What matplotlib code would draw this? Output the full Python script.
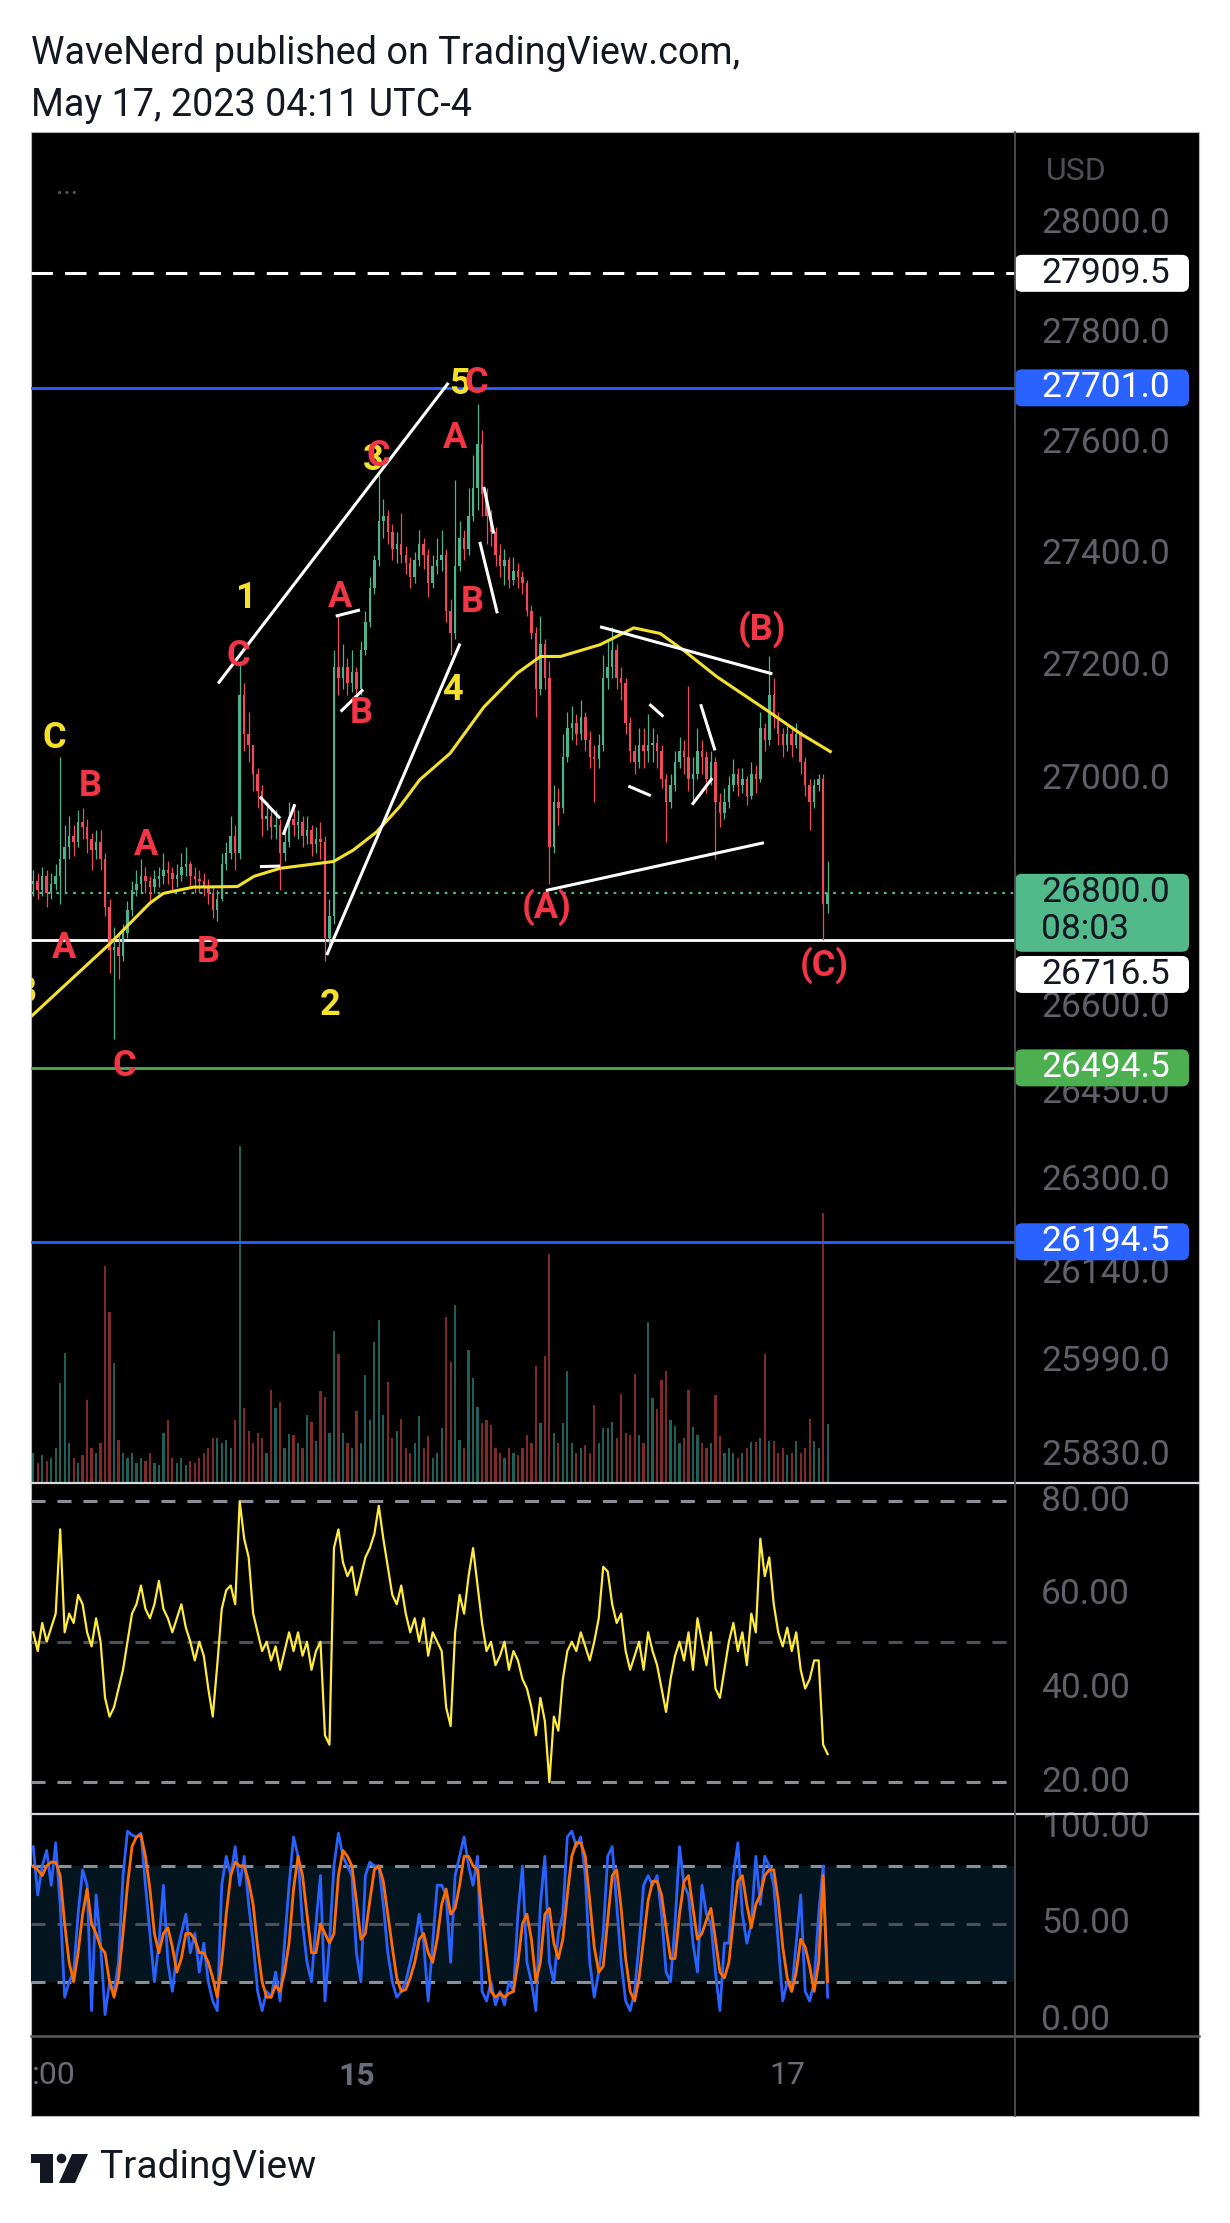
import numpy as np
import matplotlib.pyplot as plt
from matplotlib.patches import Rectangle, FancyBboxPatch, Polygon, Circle
from matplotlib.lines import Line2D
from matplotlib.transforms import IdentityTransform, blended_transform_factory

plt.rcParams['font.family'] = ['Roboto', 'DejaVu Sans']

# ---- 30 min BTCUSD bars, May 13 12:00 -> May 17 04:30 ----
first_open = 26815
close = [
    26820, 26805, 26830, 26800, 26815, 26830, 26860, 26880, 26900, 26890,
    26925, 26915, 26895, 26875, 26890, 26860, 26775, 26700, 26705, 26690,
    26730, 26770, 26805, 26815, 26830, 26820, 26810, 26825, 26830, 26840,
    26835, 26825, 26832, 26845, 26850, 26830, 26825, 26820, 26812, 26800,
    26770, 26790, 26850, 26870, 26900, 26870, 27150, 27080, 27060, 27010,
    26980, 26930, 26935, 26915, 26920, 26870, 26890, 26930, 26920, 26925,
    26900, 26910, 26885, 26895, 26890, 26720, 26760, 27200, 27180, 27200,
    27170, 27190, 27160, 27230, 27280, 27340, 27390, 27460, 27470, 27440,
    27410, 27420, 27400, 27385, 27360, 27390, 27420, 27400, 27350, 27380,
    27390, 27400, 27300, 27260, 27380, 27430, 27410, 27470, 27520, 27600,
    27510, 27470, 27440, 27400, 27380, 27390, 27355, 27370, 27360, 27350,
    27300, 27260, 27160, 27240, 27180, 26880, 26960, 26950, 27040, 27090,
    27100, 27080, 27110, 27070, 27040, 27035, 27060, 27180, 27200, 27230,
    27180, 27170, 27100, 27050, 27030, 27060, 27050, 27060, 27065, 27050,
    27000, 26960, 26990, 27030, 27050, 27040, 27000, 27010, 27050, 27040,
    27000, 27030, 26960, 26940, 26960, 26990, 27010, 26990, 27000, 26970,
    27010, 27000, 27090, 27070, 27150, 27110, 27080, 27060, 27080, 27060,
    27080, 27030, 26990, 26960, 26990, 27000, 26780, 26800]
high = [
    26840, 26835, 26845, 26840, 26835, 26850, 27040, 26920, 26935, 26920,
    26945, 26950, 26930, 26905, 26910, 26910, 26870, 26790, 26740, 26730,
    26745, 26785, 26820, 26840, 26860, 26845, 26830, 26840, 26845, 26870,
    26855, 26845, 26850, 26870, 26880, 26855, 26845, 26840, 26835, 26825,
    26810, 26805, 26870, 26890, 26935, 26920, 27210, 27170, 27120, 27060,
    27020, 26990, 26960, 26950, 26945, 26930, 26910, 26960, 26955, 26945,
    26935, 26935, 26920, 26915, 26925, 26900, 26790, 27230, 27290, 27240,
    27215, 27230, 27200, 27245, 27300, 27360, 27400, 27545, 27500, 27480,
    27455, 27440, 27475, 27415, 27395, 27405, 27445, 27430, 27410, 27400,
    27430, 27445, 27410, 27320, 27535, 27460, 27445, 27520, 27580, 27671,
    27625, 27520, 27480, 27450, 27420, 27410, 27395, 27395, 27385, 27370,
    27355, 27310, 27270, 27290, 27250, 27210, 26990, 26985, 27080, 27120,
    27130, 27115, 27140, 27120, 27085, 27060, 27080, 27220, 27245, 27270,
    27240, 27200, 27180, 27110, 27060, 27090, 27090, 27115, 27090, 27080,
    27060, 27010, 27010, 27050, 27075, 27070, 27165, 27040, 27090, 27070,
    27050, 27050, 27040, 26975, 26985, 27005, 27035, 27020, 27020, 27005,
    27030, 27025, 27120, 27100, 27219, 27180, 27120, 27090, 27095, 27090,
    27100, 27085, 27040, 27000, 27000, 27010, 27010, 26855]
low = [
    26795, 26790, 26795, 26775, 26790, 26805, 26780, 26800, 26860, 26865,
    26880, 26895, 26870, 26840, 26860, 26840, 26760, 26660, 26545, 26650,
    26680, 26720, 26760, 26795, 26800, 26800, 26780, 26800, 26810, 26815,
    26815, 26805, 26810, 26820, 26830, 26810, 26800, 26800, 26795, 26780,
    26755, 26750, 26785, 26840, 26860, 26840, 26860, 27050, 27030, 26980,
    26950, 26900, 26910, 26895, 26895, 26805, 26855, 26880, 26900, 26895,
    26880, 26885, 26865, 26870, 26860, 26680, 26700, 26745, 27150, 27160,
    27150, 27155, 27130, 27150, 27220, 27270, 27330, 27380, 27430, 27420,
    27390, 27385, 27385, 27365, 27340, 27350, 27380, 27375, 27325, 27340,
    27365, 27370, 27280, 27220, 27250, 27370, 27390, 27400, 27460, 27480,
    27470, 27420, 27415, 27380, 27360, 27345, 27340, 27345, 27340, 27330,
    27290, 27250, 27110, 27150, 27160, 26815, 26870, 26920, 26940, 27030,
    27070, 27060, 27070, 27050, 27020, 26960, 27020, 27050, 27160, 27180,
    27160, 27140, 27080, 27030, 27010, 27020, 27020, 27030, 27030, 27020,
    26985, 26890, 26950, 26980, 27020, 27010, 26980, 26960, 27000, 27010,
    26975, 26990, 26860, 26915, 26930, 26950, 26980, 26970, 26975, 26955,
    26965, 26975, 26995, 27050, 27060, 27090, 27060, 27040, 27050, 27040,
    27055, 27010, 26970, 26910, 26950, 26980, 26716.5, 26765]
volume = [
    30, 20, 28, 22, 25, 35, 100, 130, 40, 25,
    20, 28, 83, 35, 30, 40, 217, 171, 120, 43,
    30, 25, 30, 20, 25, 22, 30, 20, 18, 50,
    63, 25, 20, 25, 18, 22, 20, 25, 30, 35,
    45, 45, 40, 43, 35, 63, 337, 75, 52, 40,
    50, 45, 30, 93, 75, 81, 35, 49, 48, 40,
    35, 68, 61, 42, 92, 86, 50, 152, 129, 50,
    40, 35, 72, 40, 108, 63, 141, 163, 68, 101,
    45, 52, 64, 35, 30, 40, 67, 35, 47, 25,
    30, 55, 166, 121, 178, 43, 35, 133, 105, 76,
    60, 63, 58, 35, 30, 25, 35, 30, 28, 35,
    48, 40, 117, 60, 127, 229, 50, 40, 60, 112,
    40, 30, 35, 38, 30, 78, 40, 55, 55, 61,
    45, 89, 50, 48, 109, 48, 40, 161, 85, 74,
    103, 112, 63, 57, 40, 45, 93, 56, 48, 40,
    35, 40, 88, 47, 30, 35, 30, 25, 30, 35,
    41, 41, 45, 129, 42, 42, 30, 35, 28, 30,
    42, 30, 35, 64, 42, 35, 270, 59]
rsi = [
    52, 48, 54, 50, 53, 56, 74, 52, 56, 54,
    60, 58, 52, 49, 55, 50, 38, 34, 36, 40,
    44, 50, 56, 58, 62, 57, 55, 58, 63, 57,
    55, 52, 55, 58, 53, 50, 46, 50, 47, 40,
    34, 45, 57, 61, 62, 58, 80, 72, 68, 56,
    52, 48, 50, 46, 49, 44, 48, 52, 48, 52,
    47, 50, 44, 48, 50, 30, 28, 70, 74, 67,
    64, 66, 60, 64, 68, 70, 73, 79, 72, 66,
    60, 58, 62, 56, 52, 55, 50, 55, 47, 52,
    50, 48, 36, 32, 52, 60, 56, 64, 70, 62,
    54, 48, 50, 45, 47, 50, 44, 48, 46, 42,
    40, 36, 30, 38, 33, 20, 34, 31, 42, 48,
    50, 48, 52, 49, 46, 50, 55, 66, 65, 58,
    54, 56, 48, 44, 47, 50, 44, 52, 48, 45,
    40, 35, 42, 47, 50, 46, 52, 44, 55, 50,
    45, 52, 40, 38, 44, 50, 54, 48, 52, 45,
    56, 52, 72, 64, 68, 58, 52, 49, 53, 48,
    52, 44, 40, 42, 46, 46, 28, 26]
stoch_k = [
    90, 65, 80, 88, 70, 92, 60, 12, 20, 25,
    55, 78, 70, 5, 65, 40, 3, 20, 15, 30,
    75, 98, 96, 95, 97, 70, 45, 20, 40, 70,
    30, 15, 35, 45, 55, 35, 45, 25, 40, 20,
    10, 5, 70, 85, 75, 90, 70, 85, 60, 40,
    15, 5, 15, 12, 25, 10, 40, 70, 95, 85,
    50, 30, 20, 50, 75, 10, 40, 80, 97, 85,
    80, 75, 35, 20, 75, 82, 80, 80, 60, 35,
    20, 12, 15, 20, 30, 40, 55, 40, 10, 40,
    70, 70, 65, 30, 75, 85, 95, 80, 70, 85,
    15, 10, 20, 8, 15, 8, 20, 15, 55, 80,
    30, 20, 5, 60, 85, 30, 20, 45, 55, 95,
    98, 90, 95, 75, 30, 12, 25, 45, 85, 90,
    60, 30, 10, 5, 15, 40, 70, 75, 70, 75,
    55, 25, 20, 50, 90, 70, 65, 40, 25, 70,
    55, 50, 25, 5, 40, 40, 75, 92, 55, 40,
    50, 85, 60, 85, 80, 70, 40, 10, 20, 15,
    40, 65, 15, 10, 20, 55, 80, 12]
stoch_d = [
    80, 78, 75, 80, 82, 82, 75, 50, 30, 20,
    35, 55, 68, 50, 45, 38, 35, 20, 12, 22,
    45, 70, 90, 95, 96, 85, 68, 45, 35, 45,
    48, 38, 25, 32, 45, 45, 42, 35, 35, 30,
    22, 12, 30, 55, 75, 82, 80, 80, 72, 60,
    38, 20, 12, 12, 18, 15, 25, 40, 68, 85,
    75, 55, 35, 35, 50, 45, 40, 45, 75, 88,
    85, 80, 62, 42, 45, 62, 78, 80, 72, 55,
    38, 22, 15, 16, 22, 30, 42, 45, 35, 30,
    42, 60, 68, 55, 58, 70, 85, 85, 80, 78,
    55, 35, 15, 12, 14, 12, 14, 15, 30, 50,
    55, 42, 20, 30, 55, 58, 40, 32, 42, 65,
    85, 92, 92, 85, 62, 38, 25, 28, 52, 75,
    78, 58, 32, 15, 10, 22, 42, 62, 72, 72,
    65, 48, 32, 32, 55, 72, 75, 58, 42, 45,
    52, 58, 42, 25, 22, 30, 52, 72, 75, 60,
    48, 60, 65, 75, 78, 78, 62, 38, 22, 15,
    25, 42, 38, 28, 15, 30, 75, 20]

# moving average (bar, price)
ma_bar = [-1, 17.1, 26.0, 29.0, 35.7, 45.5, 49.2, 55.0, 66.9, 71.3, 76.5, 81.7, 86.1,
          92.9, 100.4, 107.8, 113.0, 117.5, 126.3, 133.8, 139.7, 144.9, 152.3, 163.5,
          170.9, 177.6]
ma_val = [26580, 26711, 26782, 26799, 26810, 26811, 26829, 26843, 26855, 26875, 26907,
          26952, 26999, 27046, 27128, 27188, 27218, 27218, 27239, 27269, 27259, 27229,
          27182, 27122, 27081, 27049]

# drawn trend lines (bar0, price0, bar1, price1)
trend_lines = [
    (41.2, 27170, 92.5, 27710), (65.4, 26691, 95.1, 27241),
    (67.4, 27290, 72.8, 27301), (68.5, 27120, 73.5, 27159),
    (50.5, 26969, 55.0, 26931), (50.5, 26846, 55.0, 26847),
    (55.7, 26902, 58.3, 26956), (100.4, 27522, 102.6, 27438),
    (99.5, 27423, 103.4, 27295), (126.3, 27271, 164.7, 27187),
    (114.2, 26804, 162.8, 26888), (137.3, 27133, 140.4, 27111),
    (132.6, 26988, 137.6, 26971), (148.7, 27133, 151.9, 27051),
    (146.8, 26955, 151.3, 27002)]

YEL, RED = '#f5e12a', '#f23645'
wave_text = ['C', '1', '3', '5', '4', '2', 'B',
             'A', 'B', 'C', 'A', 'B', 'C', 'A', 'B', 'C', 'A', 'C', 'B',
             '(A)', '(B)', '(C)']
wave_bar = [4.8, 47.2, 75.7, 94.9, 93.5, 66.1, -1.8,
            6.8, 12.8, 20.4, 25.1, 38.9, 45.6, 68.4, 73.1, 76.8, 94.0, 98.7, 97.8,
            114.4, 162.4, 176.3]
wave_price = [27073, 27322, 27570, 27708, 27158, 26604, 26627,
              26703, 26988, 26498, 26884, 26696, 27219, 27324, 27118, 27578, 27610,
              27710, 27315, 26775, 27267, 26674]
wave_color = [YEL] * 7 + [RED] * 15

price_ticks = [28000, 27800, 27600, 27400, 27200, 27000, 26600, 26450, 26300, 26140,
               25990, 25830]
rsi_ticks = [80, 60, 40, 20]
stoch_ticks = [100, 50, 0]
day_ticks = [72, 168]
day_labels = ['15', '17']

W, H = 1230, 2223
fig = plt.figure(figsize=(W / 100, H / 100), dpi=100, facecolor='white')
PX = IdentityTransform()
XMIN, XMAX = -0.5, 218.75


def frame(x0, y0, x1, y1):
    return [x0 / W, 1 - y1 / H, (x1 - x0) / W, (y1 - y0) / H]


def dy(y):
    return H - y


fig.add_artist(Rectangle((31, dy(2116)), 1168, 1984, transform=PX, fc='black',
                         ec='#b5b5b5', lw=0.8, zorder=-5))

ax_v = fig.add_axes(frame(31, 132, 1015, 1483))
ax = fig.add_axes(frame(31, 132, 1015, 1483))
ax_r = fig.add_axes(frame(31, 1483, 1015, 1814))
ax_s = fig.add_axes(frame(31, 1814, 1015, 2036))
for a in (ax_v, ax, ax_r, ax_s):
    a.axis('off')
    a.set_xlim(XMIN, XMAX)

x = np.arange(len(close))
c = np.array(close, float)
o = np.r_[first_open, c[:-1]]
up = c >= o

# volume
ax_v.set_ylim(0, 1351)
ax_v.bar(x, volume, width=0.5, color=np.where(up, '#1e5f58', '#80292d'), lw=0)

# candles
ax.set_yscale('log')
ax.set_ylim(25784, 28169)
cc = np.where(up, '#4cb38c', '#ef4a5a')
ax.vlines(x, low, high, colors=cc, lw=0.9, zorder=3)
ax.bar(x, np.maximum(np.abs(c - o), 2), bottom=np.minimum(o, c), width=0.55,
       color=cc, lw=0, zorder=3)

# levels
ax.axhline(27909.5, color='white', lw=2.2, ls=(0, (7, 4)), zorder=2)
ax.axhline(27701.0, color='#2962ff', lw=2, zorder=2)
ax.axhline(26800.0, color='#4fbc8c', lw=1.6, ls=(0, (1.2, 2.6)), zorder=2)
ax.axhline(26716.5, color='white', lw=2, zorder=2)
ax.axhline(26494.5, color='#4caf50', lw=2, zorder=2)
ax.axhline(26194.5, color='#2962ff', lw=2, zorder=2)

ax.plot(ma_bar, ma_val, color='#f4e12b', lw=2.2, zorder=4)
for b0, p0, b1, p1 in trend_lines:
    ax.plot([b0, b1], [p0, p1], color='white', lw=2.2, zorder=5,
            solid_capstyle='butt')
for t, b, p, col in zip(wave_text, wave_bar, wave_price, wave_color):
    ax.text(b, p, t, color=col, fontsize=26, fontweight='bold', ha='center',
            va='center', zorder=6, clip_on=True)

# RSI
ax_r.set_ylim(13.2, 83.9)
ax_r.axhline(80, color='#8b8e96', lw=2.2, ls=(0, (4.6, 3.9)))
ax_r.axhline(50, color='#4d5059', lw=2.2, ls=(0, (4.6, 3.9)))
ax_r.axhline(20, color='#8b8e96', lw=2.2, ls=(0, (4.6, 3.9)))
ax_r.plot(x, rsi, color='#ffeb3b', lw=1.6)

# Stochastic
ax_s.set_ylim(-8.1, 106.9)
ax_s.axhspan(20, 80, color='#051520', lw=0)
ax_s.axhline(80, color='#8b8e96', lw=2.2, ls=(0, (4.6, 3.9)))
ax_s.axhline(50, color='#4d5059', lw=2.2, ls=(0, (4.6, 3.9)))
ax_s.axhline(20, color='#8b8e96', lw=2.2, ls=(0, (4.6, 3.9)))
ax_s.plot(x, stoch_k, color='#2962ff', lw=2)
ax_s.plot(x, stoch_d, color='#ff6d00', lw=2)

# right scale labels
GREY = '#5f6068'
for a, ticks, fmt in ((ax, price_ticks, '{:.1f}'), (ax_r, rsi_ticks, '{:.2f}'),
                      (ax_s, stoch_ticks, '{:.2f}')):
    tr = blended_transform_factory(fig.transFigure, a.transData)
    for v in ticks:
        fig.text(1041 / W, v, fmt.format(v), transform=tr, color=GREY, fontsize=25.5,
                 va='center', ha='left', zorder=5)
fig.text(1046 / W, 1 - 171 / H, 'USD', color='#4e4f55', fontsize=23, va='center')


def tag(value, text, fc, tc, shift=0, sub=None):
    yd = ax.transData.transform((0, value))[1] - shift
    if sub:
        box = FancyBboxPatch((1015, yd - 59), 174, 78, transform=PX, fc=fc, ec='none',
                             boxstyle='round,pad=0,rounding_size=7', zorder=10)
        fig.text(1041, yd - 37, sub, transform=PX, color=tc, fontsize=25.5,
                 va='center', zorder=11)
    else:
        box = FancyBboxPatch((1015, yd - 18.5), 174, 37, transform=PX, fc=fc,
                             ec='none', boxstyle='round,pad=0,rounding_size=7',
                             zorder=10)
    fig.add_artist(box)
    fig.text(1041, yd, text, transform=PX, color=tc, fontsize=25.5, va='center',
             zorder=11)


tag(27909.5, '27909.5', 'white', '#131722')
tag(27701.0, '27701.0', '#2962ff', 'white')
tag(26800.0, '26800.0', '#52b98a', '#131722', sub='08:03')
tag(26716.5, '26716.5', 'white', '#131722', shift=34)
tag(26494.5, '26494.5', '#4caf50', 'white')
tag(26194.5, '26194.5', '#2962ff', 'white')

# time axis
trx = blended_transform_factory(ax.transData, fig.transFigure)
for b, lab in zip(day_ticks, day_labels):
    fig.text(b, 1 - 2076 / H, lab, transform=trx, color='#6a6d78', fontsize=23,
             fontweight='bold' if lab == '15' else 'normal', ha='center', va='center')
fig.text(32 / W, 1 - 2076 / H, ':00', color='#6a6d78', fontsize=23, va='center')
fig.text(56 / W, 1 - 186 / H, '...', color='#5a5a5a', fontsize=20, va='center')

# separators
for y, col, lw in ((1483, '#d8d9e0', 1.6), (1814, '#d8d9e0', 1.6), (2036, '#5a5a5a', 1.8)):
    fig.add_artist(Line2D([31, 1199], [dy(y), dy(y)], transform=PX, color=col, lw=lw,
                          zorder=20))
fig.add_artist(Line2D([1015, 1015], [dy(132), dy(2116)], transform=PX, color='#4f4f4f',
                      lw=1.3, zorder=20))

# header and footer
fig.text(31 / W, 1 - 54 / H, 'WaveNerd published on TradingView.com,', color='#131722',
         fontsize=27.2, va='center')
fig.text(31 / W, 1 - 105 / H, 'May 17, 2023 04:11 UTC-4', color='#131722',
         fontsize=27.2, va='center')
fig.add_artist(Polygon([(31, dy(2154)), (53, dy(2154)), (53, dy(2183)), (40, dy(2183)),
                        (40, dy(2163)), (31, dy(2163))], closed=True, transform=PX,
                       fc='#131722', ec='none'))
fig.add_artist(Circle((61.5, dy(2158.5)), 4.8, transform=PX, fc='#131722', ec='none'))
fig.add_artist(Polygon([(72, dy(2154)), (88, dy(2154)), (75, dy(2183)), (59, dy(2183))],
                       closed=True, transform=PX, fc='#131722', ec='none'))
fig.text(100 / W, 1 - 2167 / H, 'TradingView', color='#131722', fontsize=28,
         va='center')

fig.savefig('out.png', dpi=100, facecolor='white')
